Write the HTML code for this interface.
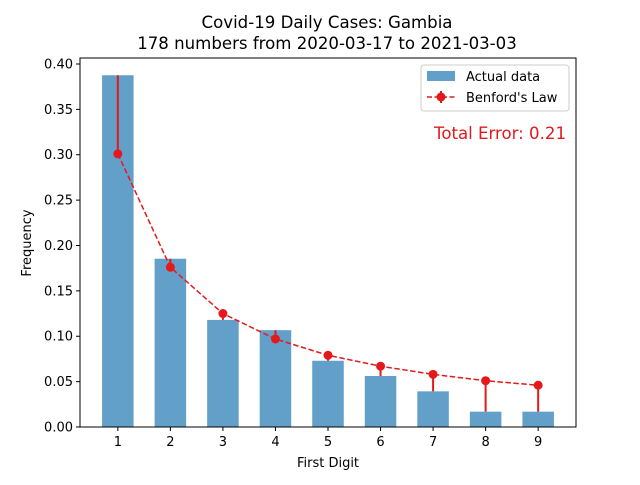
<!DOCTYPE html>
<html><head><meta charset="utf-8"><style>
body{margin:0;background:#fff;font-family:"Liberation Sans","DejaVu Sans",sans-serif}
svg text{font-family:"DejaVu Sans","Liberation Sans",sans-serif}
</style></head><body>
<svg id="chart" width="640" height="480" viewBox="0 0 640 480">
<rect width="640" height="480" fill="#fff"/>
<text x="327" y="28" text-anchor="middle" font-size="16.6">Covid-19 Daily Cases: Gambia</text>
<text x="327" y="49" text-anchor="middle" font-size="16.6">178 numbers from 2020-03-17 to 2021-03-03</text>
<g id="plot"></g>
<text x="328" y="467" text-anchor="middle" font-size="13">First Digit</text>
<text transform="translate(31,243) rotate(-90)" text-anchor="middle" font-size="13">Frequency</text>
<g>
<rect x="421" y="65" width="148" height="46" fill="#fff" stroke="#ccc" rx="3"/>
<rect x="427" y="71" width="28" height="10" fill="#1f77b4" fill-opacity="0.7"/>
<text x="466" y="81" font-size="13">Actual data</text>
<line x1="427" y1="97" x2="455" y2="97" stroke="#e31a1c" stroke-width="1.5" stroke-dasharray="5,2.5"/>
<line x1="441" y1="91" x2="441" y2="103" stroke="#e31a1c" stroke-width="2"/>
<circle cx="441" cy="97" r="4.5" fill="#e31a1c"/>
<text x="466" y="102" font-size="13">Benford's Law</text>
</g>
<text x="566" y="139" text-anchor="end" font-size="16.6" fill="#e31a1c">Total Error: 0.21</text>
</svg>
<script>
const digits = [1,2,3,4,5,6,7,8,9];
const actual = [0.3876,0.1854,0.1180,0.1067,0.0730,0.0562,0.0393,0.0169,0.0169];
const benford = [0.301,0.176,0.125,0.097,0.079,0.067,0.058,0.051,0.046];
const yTicks = [0,0.05,0.10,0.15,0.20,0.25,0.30,0.35,0.40];
const L=80,R=576,T=58,B=427, xmin=0.28,xmax=9.72, ymin=0,ymax=0.4066;
const xs=v=>L+(v-xmin)/(xmax-xmin)*(R-L);
const ys=v=>B-(v-ymin)/(ymax-ymin)*(B-T);
const g=document.getElementById('plot');
const NS='http://www.w3.org/2000/svg';
function mk(t,a){const e=document.createElementNS(NS,t);for(const k in a)e.setAttribute(k,a[k]);g.appendChild(e);return e;}
const bw=xs(0.6)-xs(0);
digits.forEach((d,i)=>{
  const b=mk('rect',{x:xs(d)-bw/2,y:ys(actual[i]),width:bw,height:ys(0)-ys(actual[i]),fill:'#1f77b4','fill-opacity':0.7});
  
  
});
let p='';
digits.forEach((d,i)=>{p+=(i?'L':'M')+xs(d)+','+ys(benford[i]);});
const ln=mk('path',{d:p,fill:'none',stroke:'#e31a1c','stroke-width':1.5,'stroke-dasharray':'5.5,2.5'});


digits.forEach((d,i)=>{
  const e=mk('line',{x1:xs(d),x2:xs(d),y1:ys(benford[i]),y2:ys(actual[i]),stroke:'#e31a1c','stroke-width':2});
  
  
  const c=mk('circle',{cx:xs(d),cy:ys(benford[i]),r:4.5,fill:'#e31a1c'});
  
  
});
const fr=mk('rect',{x:L,y:T,width:R-L,height:B-T,fill:'none',stroke:'#000','stroke-width':1});


yTicks.forEach(v=>{
  mk('line',{x1:L-4,x2:L,y1:ys(v),y2:ys(v),stroke:'#000'});
  const t=mk('text',{x:L-7,y:ys(v)+4.5,'text-anchor':'end','font-size':13});
  t.textContent=v.toFixed(2);
  
  
});
digits.forEach(d=>{
  mk('line',{x1:xs(d),x2:xs(d),y1:B,y2:B+4,stroke:'#000'});
  const t=mk('text',{x:xs(d),y:B+19,'text-anchor':'middle','font-size':13});
  t.textContent=d;
  
  
});
</script>
</body></html>
